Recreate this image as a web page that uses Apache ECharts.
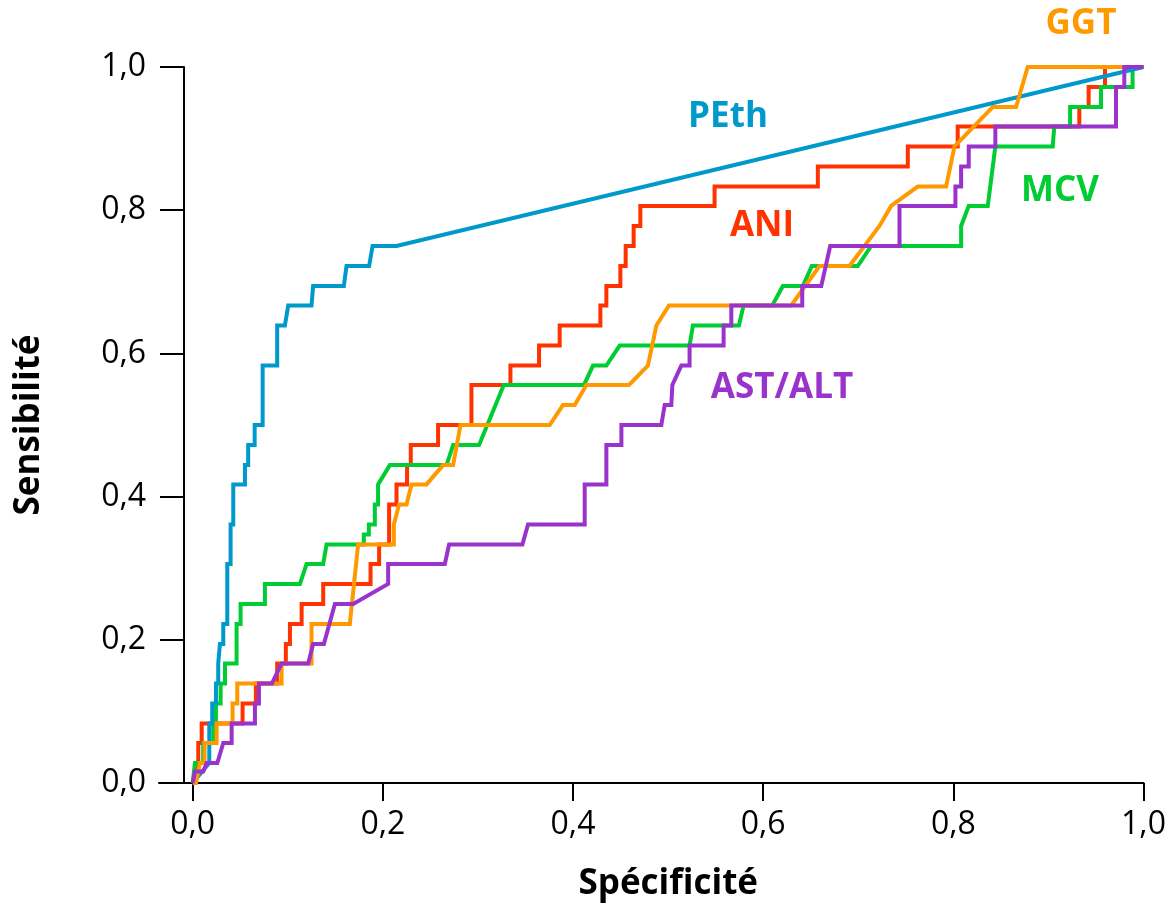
<!DOCTYPE html>
<html>
<head>
<meta charset="utf-8">
<script src="https://cdn.jsdelivr.net/npm/echarts@6/dist/echarts.min.js"></script>
<style>
html,body{margin:0;padding:0;background:#fff;}
#chart{width:1171px;height:908px;}
</style>
</head>
<body>
<div id="chart"></div>
<script>
const xTicks = [0, 0.2, 0.4, 0.6, 0.8, 1.0];
const yTicks = [0, 0.2, 0.4, 0.6, 0.8, 1.0];
const seriesNames = ['PEth', 'ANI', 'GGT', 'MCV', 'AST/ALT'];
const seriesColors = ['#0099cc', '#ff3300', '#ff9900', '#00cc33', '#9933cc'];

const peth = [[0,0],[0.0175,0.028],[0.0175,0.083],[0.0206,0.083],[0.0206,0.111],[0.0245,0.111],[0.0245,0.139],[0.0269,0.139],[0.0269,0.167],[0.0287,0.167],[0.0287,0.194],[0.0322,0.194],[0.0322,0.222],[0.0364,0.222],[0.0364,0.306],[0.0399,0.306],[0.0399,0.361],[0.0427,0.361],[0.0427,0.417],[0.055,0.417],[0.055,0.444],[0.0584,0.444],[0.0584,0.472],[0.0652,0.472],[0.0652,0.5],[0.0736,0.5],[0.0736,0.583],[0.0889,0.583],[0.0889,0.639],[0.097,0.639],[0.1005,0.667],[0.125,0.667],[0.1267,0.694],[0.159,0.694],[0.1618,0.722],[0.1856,0.722],[0.1892,0.75],[0.2144,0.75],[1,1]];

const ani = [[0,0],[0.0059,0.028],[0.0059,0.056],[0.0095,0.056],[0.0095,0.083],[0.0525,0.083],[0.0525,0.111],[0.0665,0.111],[0.0665,0.139],[0.0889,0.139],[0.0889,0.167],[0.098,0.167],[0.098,0.194],[0.1023,0.194],[0.1023,0.222],[0.1146,0.222],[0.1146,0.25],[0.1373,0.25],[0.1373,0.278],[0.1871,0.278],[0.1871,0.306],[0.1961,0.306],[0.1961,0.333],[0.2066,0.333],[0.2066,0.389],[0.2144,0.389],[0.2144,0.417],[0.2255,0.417],[0.2255,0.444],[0.2294,0.444],[0.2294,0.472],[0.2581,0.472],[0.2581,0.5],[0.2932,0.5],[0.2932,0.556],[0.3342,0.556],[0.3342,0.583],[0.3643,0.583],[0.3643,0.611],[0.386,0.611],[0.386,0.639],[0.4288,0.639],[0.4288,0.667],[0.4351,0.667],[0.4351,0.694],[0.4498,0.694],[0.4498,0.722],[0.4554,0.722],[0.4554,0.75],[0.4638,0.75],[0.4638,0.778],[0.4708,0.778],[0.4708,0.806],[0.5489,0.806],[0.5489,0.833],[0.6575,0.833],[0.6575,0.861],[0.7521,0.861],[0.7521,0.889],[0.8046,0.889],[0.8046,0.917],[0.9325,0.917],[0.9325,0.944],[0.9423,0.944],[0.9423,0.972],[0.9595,0.972],[0.9595,1],[1,1]];

const ggt = [[0,0],[0.0035,0],[0.0077,0.028],[0.0125,0.028],[0.0125,0.056],[0.0252,0.056],[0.0252,0.083],[0.042,0.083],[0.042,0.111],[0.0469,0.111],[0.0469,0.139],[0.0935,0.139],[0.0935,0.167],[0.125,0.167],[0.125,0.222],[0.1653,0.222],[0.174,0.333],[0.2116,0.333],[0.2116,0.361],[0.2171,0.389],[0.2249,0.389],[0.2302,0.417],[0.2459,0.417],[0.2634,0.444],[0.2739,0.444],[0.2817,0.5],[0.3755,0.5],[0.3895,0.528],[0.4018,0.528],[0.4141,0.556],[0.4589,0.556],[0.4788,0.583],[0.4877,0.639],[0.5009,0.667],[0.6295,0.667],[0.6593,0.722],[0.6908,0.722],[0.7223,0.778],[0.7346,0.806],[0.7626,0.833],[0.7924,0.833],[0.8012,0.889],[0.8414,0.944],[0.866,0.944],[0.8782,1],[1,1]];

const mcv = [[0,0],[0.0024,0.028],[0.0111,0.028],[0.0111,0.056],[0.0217,0.056],[0.0217,0.083],[0.0245,0.083],[0.0245,0.111],[0.0294,0.111],[0.0294,0.139],[0.034,0.139],[0.034,0.167],[0.0462,0.167],[0.0462,0.222],[0.0504,0.222],[0.0504,0.25],[0.076,0.25],[0.076,0.278],[0.1128,0.278],[0.1198,0.306],[0.1373,0.306],[0.1408,0.333],[0.18,0.333],[0.18,0.347],[0.1853,0.347],[0.1853,0.361],[0.1916,0.361],[0.1916,0.389],[0.195,0.389],[0.195,0.417],[0.2074,0.444],[0.267,0.444],[0.2739,0.472],[0.3012,0.472],[0.3272,0.556],[0.4116,0.556],[0.421,0.583],[0.4351,0.583],[0.4491,0.611],[0.5226,0.611],[0.5261,0.639],[0.5745,0.639],[0.5794,0.667],[0.6096,0.667],[0.6207,0.694],[0.6417,0.694],[0.6512,0.722],[0.6995,0.722],[0.7136,0.75],[0.8082,0.75],[0.8082,0.778],[0.8162,0.806],[0.8362,0.806],[0.8442,0.889],[0.9045,0.889],[0.9062,0.917],[0.9228,0.917],[0.9228,0.944],[0.9553,0.944],[0.9553,0.972],[0.9885,0.972],[0.9885,1],[1,1]];

const astalt = [[0,0],[0.0024,0.016],[0.0111,0.016],[0.0147,0.028],[0.0259,0.028],[0.0322,0.056],[0.041,0.056],[0.041,0.083],[0.0655,0.083],[0.0655,0.111],[0.0697,0.111],[0.0697,0.139],[0.0834,0.139],[0.0935,0.167],[0.1215,0.167],[0.1267,0.194],[0.138,0.194],[0.1496,0.25],[0.1688,0.25],[0.2056,0.278],[0.2056,0.306],[0.2652,0.306],[0.2697,0.333],[0.3468,0.333],[0.3527,0.361],[0.4123,0.361],[0.4123,0.417],[0.4351,0.417],[0.4351,0.472],[0.4509,0.472],[0.4509,0.5],[0.4929,0.5],[0.4964,0.528],[0.5034,0.528],[0.5045,0.556],[0.5139,0.583],[0.5226,0.583],[0.5226,0.611],[0.5584,0.611],[0.5584,0.639],[0.5665,0.639],[0.5665,0.667],[0.6411,0.667],[0.6411,0.694],[0.6611,0.694],[0.6705,0.75],[0.7434,0.75],[0.7434,0.806],[0.8022,0.806],[0.8022,0.833],[0.8082,0.833],[0.8082,0.861],[0.8162,0.861],[0.8162,0.889],[0.8442,0.889],[0.8442,0.917],[0.9711,0.917],[0.9711,0.972],[0.9798,0.972],[0.9798,1],[1,1]];

const seriesData = [peth, ani, ggt, mcv, astalt];
const drawOrder = [1, 3, 0, 2, 4];
const labelPos = [[728,117],[762,226],[1081,24],[1060,191],[782,388]];

const fmt = v => v.toFixed(1).replace('.', ',');
const chart = echarts.init(document.getElementById('chart'), null, {renderer: 'canvas'});

const series = drawOrder.map(i => ({
  name: seriesNames[i],
  type: 'line',
  data: seriesData[i],
  showSymbol: false,
  symbol: 'none',
  clip: false,
  animation: false,
  lineStyle: {color: seriesColors[i], width: 4, join: 'miter'},
  itemStyle: {color: seriesColors[i]}
}));

chart.setOption({
  animation: false,
  backgroundColor: '#fff',
  grid: {left: 159, right: 1171 - 1143.5, top: 67, bottom: 125, containLabel: false},
  xAxis: {
    type: 'value', min: -0.0354, max: 1,
    name: 'Spécificité', nameLocation: 'middle', nameGap: 84,
    nameTextStyle: {fontFamily: 'Open Sans', fontWeight: 'bold', fontSize: 35, color: '#000', padding: [0, 0, 0, 34]},
    axisLine: {onZero: false, lineStyle: {color: '#000', width: 2}},
    axisTick: {show: true, length: 18, customValues: xTicks, lineStyle: {color: '#000', width: 2}},
    axisLabel: {customValues: xTicks, formatter: fmt, fontFamily: 'Open Sans', fontSize: 32, color: '#000', margin: 26},
    splitLine: {show: false}
  },
  yAxis: {
    type: 'value', min: 0, max: 1, interval: 0.2, offset: -25,
    name: 'Sensibilité', nameLocation: 'middle', nameGap: 137, nameRotate: 90,
    nameTextStyle: {fontFamily: 'Open Sans', fontWeight: 'bold', fontSize: 35, color: '#000'},
    axisLine: {onZero: false, lineStyle: {color: '#000', width: 2}},
    axisTick: {show: true, length: 24, customValues: yTicks, lineStyle: {color: '#000', width: 2}},
    axisLabel: {customValues: yTicks, formatter: fmt, fontFamily: 'Open Sans', fontSize: 32, color: '#000', margin: 38},
    splitLine: {show: false}
  },
  graphic: seriesNames.map((n, i) => ({
    type: 'text', x: labelPos[i][0], y: labelPos[i][1], z: 100,
    style: {text: n, fill: seriesColors[i], font: 'bold 35px "Open Sans"', textAlign: 'center', textVerticalAlign: 'middle'}
  })),
  series: series
});
</script>
</body>
</html>
